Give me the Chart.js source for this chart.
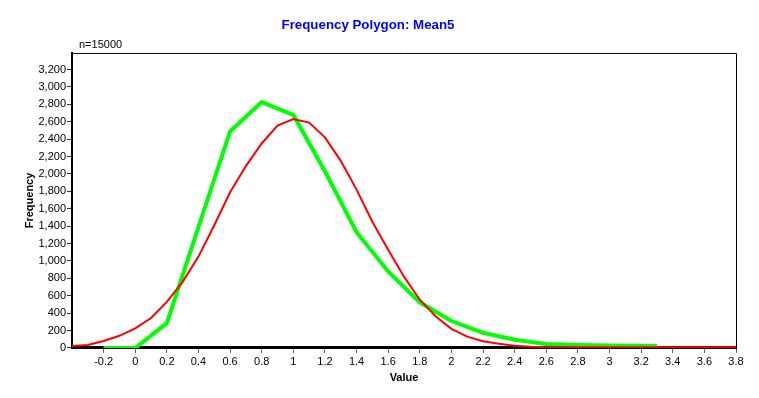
<!DOCTYPE html>
<html>
<head>
<meta charset="utf-8">
<title>Frequency Polygon: Mean5</title>
<script src="https://cdn.jsdelivr.net/npm/chart.js@4/dist/chart.umd.min.js"></script>
<style>
  html, body { margin: 0; padding: 0; background: #fff; }
  #wrap { width: 759px; height: 398px; }
</style>
</head>
<body>
<div id="wrap"><canvas id="freq_chart" width="759" height="398"></canvas></div>
<script>
// frequency polygon (green) - bin points
var poly_x = [-0.2, 0, 0.2, 0.4, 0.6, 0.8, 1.0, 1.2, 1.4, 1.6, 1.8, 2.0, 2.2, 2.4, 2.6, 2.8, 3.0, 3.2, 3.3];
var poly_y = [0, 0, 285, 1390, 2488, 2825, 2678, 2030, 1330, 880, 525, 310, 175, 95, 45, 34, 28, 25, 24];

// normal curve (red)
var norm_x = [-0.4, -0.3, -0.2, -0.1, 0, 0.1, 0.2, 0.3, 0.4, 0.5, 0.6, 0.7, 0.8, 0.9, 1.0,
              1.1, 1.2, 1.3, 1.4, 1.5, 1.6, 1.7, 1.8, 1.9, 2.0, 2.1, 2.2, 2.3, 2.4, 2.5,
              2.6, 2.7, 2.8, 2.9, 3.0, 3.1, 3.2, 3.3, 3.4, 3.5, 3.6, 3.7, 3.8];
var norm_y = [22, 35, 80, 140, 225, 345, 530, 760, 1050, 1410, 1790, 2090, 2350, 2555, 2630,
              2590, 2420, 2150, 1820, 1450, 1130, 820, 555, 365, 220, 130, 78, 48, 25, 15,
              10, 8, 8, 8, 8, 8, 8, 8, 8, 8, 8, 8, 8];

var x_ticks = [-0.2, 0, 0.2, 0.4, 0.6, 0.8, 1, 1.2, 1.4, 1.6, 1.8, 2, 2.2, 2.4, 2.6, 2.8, 3, 3.2, 3.4, 3.6, 3.8];
var y_ticks = [0, 200, 400, 600, 800, 1000, 1200, 1400, 1600, 1800, 2000, 2200, 2400, 2600, 2800, 3000, 3200];

var FONT = "'Liberation Sans', Arial, sans-serif";
Chart.defaults.font.family = FONT;
Chart.defaults.color = '#000';

function pts(xs, ys){
	return xs.map(function(v, i){ return {x: v, y: ys[i]}; });
}

// n= label and frame round the plot
var frame_plugin = {
	id: 'frame_plugin',
	afterDraw: function(chart){
		var ctx = chart.ctx, a = chart.chartArea;
		ctx.save();
		ctx.font = '11px ' + FONT;
		ctx.fillStyle = '#000';
		ctx.textBaseline = 'middle';
		ctx.fillText('n=15000', 79, 45);
		ctx.strokeStyle = '#000';
		ctx.lineWidth = 1;
		ctx.beginPath();
		ctx.moveTo(a.left, a.top + 0.5);
		ctx.lineTo(a.right + 0.5, a.top + 0.5);
		ctx.lineTo(a.right + 0.5, a.bottom);
		ctx.stroke();
		ctx.restore();
	}
};

var ctx = document.getElementById('freq_chart');
var chart = new Chart(ctx, {
	type: 'line',
	data: {
		datasets: [{
			label: 'Normal',
			data: pts(norm_x, norm_y),
			borderColor: '#ff0000',
			borderWidth: 2,
			pointRadius: 0,
			tension: 0,
			fill: false
		}, {
			label: 'Frequency',
			data: pts(poly_x, poly_y),
			borderColor: '#00ff00',
			borderWidth: 4,
			pointRadius: 0,
			tension: 0,
			fill: false
		}]
	},
	options: {
		responsive: false,
		animation: false,
		devicePixelRatio: 1,
		layout: { padding: { left: 0, right: 23, top: 0, bottom: 0 } },
		plugins: {
			legend: { display: false },
			tooltip: { enabled: false },
			title: {
				display: true,
				text: 'Frequency Polygon: Mean5',
				color: '#0000ff',
				font: { size: 13.3, weight: 'bold' },
				padding: { top: 17, bottom: 20 }
			}
		},
		scales: {
			x: {
				type: 'linear',
				min: -0.4,
				max: 3.8,
				afterBuildTicks: function(scale){
					scale.ticks = x_ticks.map(function(v){ return {value: v}; });
				},
				afterFit: function(scale){ scale.height = 50; },
				ticks: {
					autoSkip: false,
					maxRotation: 0,
					padding: 2,
					font: { size: 11 },
					callback: function(v){ return String(parseFloat(Number(v).toFixed(1))); }
				},
				grid: { drawOnChartArea: false, drawTicks: true, tickLength: 5, tickColor: '#666' },
				border: { display: true, color: '#000', width: 3 },
				title: {
					display: true,
					text: 'Value',
					font: { size: 11, weight: 'bold' },
					padding: { top: 0, bottom: 13 }
				}
			},
			y: {
				type: 'linear',
				min: 0,
				max: 3390,
				afterBuildTicks: function(scale){
					scale.ticks = y_ticks.map(function(v){ return {value: v}; });
				},
				afterFit: function(scale){ scale.width = 72; },
				ticks: {
					padding: 1,
					font: { size: 11 },
					callback: function(v){ return Number(v).toLocaleString('en-US'); }
				},
				grid: { drawOnChartArea: false, drawTicks: true, tickLength: 5, tickColor: '#333' },
				border: { display: true, color: '#000', width: 2, dash: [1, 1] },
				title: {
					display: true,
					text: 'Frequency',
					font: { size: 11, weight: 'bold' },
					padding: { top: 23, bottom: 0 }
				}
			}
		}
	},
	plugins: [frame_plugin]
});
</script>
</body>
</html>
